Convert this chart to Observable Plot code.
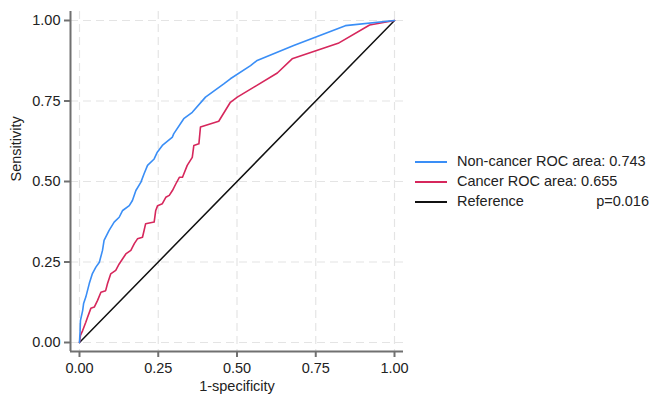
<!DOCTYPE html>
<html>
<head>
<meta charset="utf-8">
<script src="https://cdn.jsdelivr.net/npm/d3@7"></script>
<script src="https://cdn.jsdelivr.net/npm/@observablehq/plot@0.6"></script>
<style>
  html, body { margin: 0; padding: 0; background: #fff; }
  #wrap { position: relative; width: 652px; height: 395px; font-family: "Liberation Sans", Arial, sans-serif; }
  #legend { position: absolute; left: 415px; top: 153px; font-size: 14.5px; color: #222; }
  .row { position: relative; height: 20px; width: 234px; }
  .row .sw { position: absolute; left: 0; top: 8px; width: 32px; height: 0; border-top: 2px solid; }
  .row .lb { position: absolute; left: 42px; top: 0px; white-space: nowrap; }
  .row .pv { position: absolute; right: 0; top: 0px; white-space: nowrap; }
</style>
</head>
<body>
<div id="wrap"></div>
<script>
// Non-cancer ROC curve (1-specificity, sensitivity)
const nonCancerX = [0, 0.002, 0.003, 0.010, 0.013, 0.020, 0.031, 0.041, 0.052, 0.063, 0.073, 0.078, 0.094, 0.110, 0.126, 0.137, 0.158, 0.168, 0.179, 0.195, 0.205, 0.216, 0.237, 0.247, 0.263, 0.295, 0.299, 0.331, 0.358, 0.400, 0.458, 0.479, 0.543, 0.564, 0.680, 0.844, 1];
const nonCancerY = [0, 0.037, 0.068, 0.099, 0.121, 0.141, 0.183, 0.214, 0.234, 0.249, 0.286, 0.317, 0.348, 0.374, 0.389, 0.410, 0.425, 0.441, 0.472, 0.498, 0.524, 0.550, 0.570, 0.591, 0.612, 0.638, 0.648, 0.695, 0.715, 0.762, 0.803, 0.819, 0.860, 0.876, 0.922, 0.984, 1];
// Cancer ROC curve
const cancerX = [0, 0.003, 0.010, 0.020, 0.025, 0.036, 0.047, 0.057, 0.068, 0.083, 0.089, 0.099, 0.115, 0.126, 0.137, 0.147, 0.163, 0.174, 0.184, 0.200, 0.205, 0.210, 0.237, 0.242, 0.248, 0.263, 0.274, 0.285, 0.295, 0.306, 0.317, 0.327, 0.342, 0.358, 0.363, 0.379, 0.384, 0.442, 0.479, 0.501, 0.628, 0.675, 0.821, 0.921, 1];
const cancerY = [0, 0.022, 0.037, 0.063, 0.077, 0.106, 0.110, 0.130, 0.156, 0.161, 0.183, 0.213, 0.224, 0.244, 0.260, 0.275, 0.286, 0.307, 0.322, 0.327, 0.348, 0.369, 0.374, 0.410, 0.425, 0.431, 0.451, 0.457, 0.472, 0.493, 0.513, 0.513, 0.550, 0.575, 0.612, 0.617, 0.669, 0.687, 0.746, 0.762, 0.837, 0.881, 0.929, 0.986, 1];
// Reference line
const refX = [0, 1];
const refY = [0, 1];
const ticks = [0, 0.25, 0.5, 0.75, 1];
const legendLabels = ["Non-cancer ROC area: 0.743", "Cancer ROC area: 0.655", "Reference"];
const pText = "p=0.016";
const colors = ["#3a8ef6", "#d6275c", "#111111"];

const toRows = (xs, ys) => xs.map((x, i) => ({x, y: ys[i]}));
const nonCancer = toRows(nonCancerX, nonCancerY);
const cancer = toRows(cancerX, cancerY);
const ref = toRows(refX, refY);

const xDom = [-9/315, 1 + 9/315];
const yDom = [-9/322, 1 + 9/322];

const chart = Plot.plot({
  width: 652,
  height: 395,
  marginLeft: 70,
  marginRight: 249,
  marginTop: 11,
  marginBottom: 44,
  style: {fontFamily: "Liberation Sans, Arial, sans-serif", fontSize: "14.5px", color: "#222", background: "#fff"},
  x: {domain: xDom},
  y: {domain: yDom},
  marks: [
    Plot.gridX(ticks, {stroke: "#e4e4e4", strokeOpacity: 1, strokeWidth: 1.2, strokeDasharray: "8,5"}),
    Plot.gridY(ticks, {stroke: "#e4e4e4", strokeOpacity: 1, strokeWidth: 1.2, strokeDasharray: "8,5"}),
    Plot.line(ref, {x: "x", y: "y", stroke: colors[2], strokeWidth: 1.5}),
    Plot.line(cancer, {x: "x", y: "y", stroke: colors[1], strokeWidth: 1.6}),
    Plot.line(nonCancer, {x: "x", y: "y", stroke: colors[0], strokeWidth: 1.6}),
    Plot.ruleX([xDom[0]], {stroke: "#707070", strokeWidth: 2}),
    Plot.ruleY([yDom[0]], {stroke: "#707070", strokeWidth: 2}),
    Plot.axisX(ticks, {tickFormat: d3.format(".2f"), tickSize: 6, tickPadding: 5, stroke: "#707070", strokeWidth: 2, fill: "#222", label: null, fontSize: 14.5}),
    Plot.axisY(ticks, {tickFormat: d3.format(".2f"), tickSize: 6, tickPadding: 4, stroke: "#707070", strokeWidth: 2, fill: "#222", label: null, fontSize: 14.5}),
    Plot.text(["Sensitivity"], {frameAnchor: "left", dx: -54, rotate: -90, lineAnchor: "middle", fill: "#222", fontSize: 14.5}),
    Plot.text(["1-specificity"], {frameAnchor: "bottom", dy: 35, lineAnchor: "middle", fill: "#222", fontSize: 14.5})
  ]
});

const wrap = document.getElementById("wrap");
wrap.appendChild(chart);
const legend = document.createElement("div");
legend.id = "legend";
legendLabels.forEach((lab, i) => {
  const row = document.createElement("div");
  row.className = "row";
  const sw = document.createElement("div");
  sw.className = "sw";
  sw.style.borderTopColor = colors[i];
  const lb = document.createElement("div");
  lb.className = "lb";
  lb.textContent = lab;
  row.appendChild(sw);
  row.appendChild(lb);
  if (i === 2) {
    const pv = document.createElement("div");
    pv.className = "pv";
    pv.textContent = pText;
    row.appendChild(pv);
  }
  legend.appendChild(row);
});
wrap.appendChild(legend);
</script>
</body>
</html>
